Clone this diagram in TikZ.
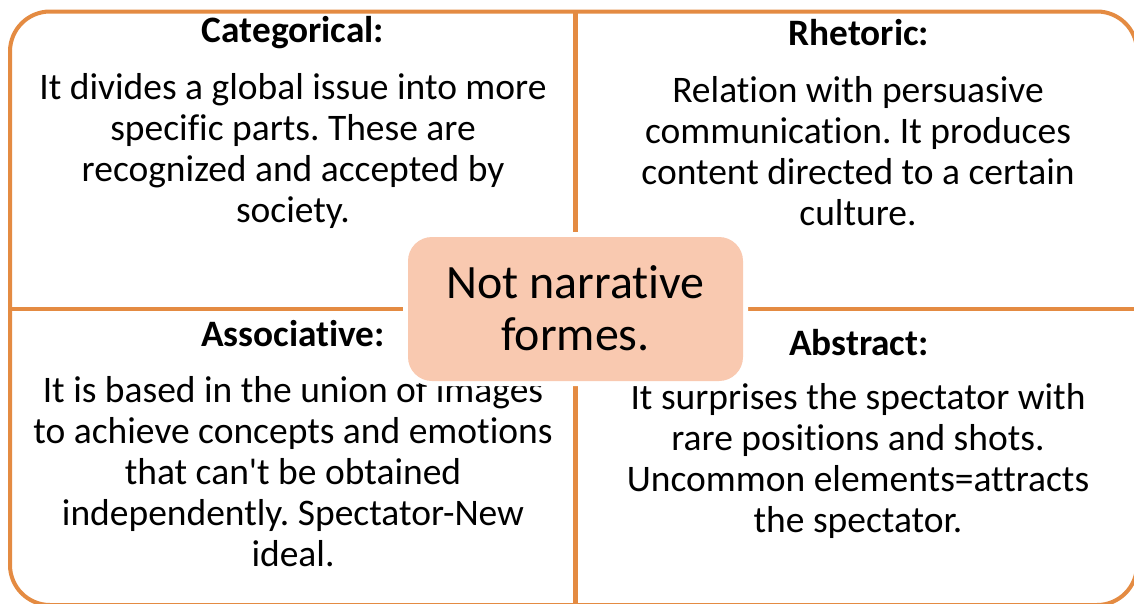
\documentclass[tikz,border=0pt]{standalone}
\usepackage{fontspec}
\setmainfont{Carlito}[Ligatures={NoCommon}]
\frenchspacing
\definecolor{orangeline}{RGB}{228,139,66}
\definecolor{peach}{RGB}{249,201,176}
\tikzset{
  frame/.style={draw=orangeline, line width=4pt},
  divider/.style={draw=orangeline, line width=4.5pt},
  heading/.style={font=\fontsize{37.3}{41}\selectfont\bfseries, align=center, inner sep=0pt},
  body/.style={font=\fontsize{37.5}{41}\selectfont, align=center, inner sep=0pt},
  centertext/.style={font=\fontsize{47.9}{52}\selectfont, align=center, inner sep=0pt},
}
\begin{document}
\begin{tikzpicture}[x=1pt,y=-1pt]
\clip (0,0) rectangle (1134,603);
\fill[white] (0,0) rectangle (1134,603);
% outer frame
\coordinate (tl) at (10,11.5);
\coordinate (br) at (1137,605);
\draw[frame, rounded corners=40pt] (tl) rectangle (br);
% dividers
\coordinate (vt) at (575.5,11.5);
\coordinate (vb) at (575.5,605);
\coordinate (hl) at (10,309);
\coordinate (hr) at (1137,309);
\draw[divider] (vt) -- (vb);
\draw[divider] (hl) -- (hr);
% headings
\node[heading] (h1) at (293,33) {Categorical:};
\node[heading] (h2) at (859,33) {Rhetoric:};
\node[heading] (h3) at (293,334) {Associative:};
\node[heading] (h4) at (859,343) {Abstract:};
% bodies
\node[body] (b1) at (293,151) {It divides a global issue into more\\specific parts. These are\\recognized and accepted by\\society.};
\node[body] (b2) at (858,151) {Relation with persuasive\\communication. It produces\\content directed to a certain\\culture.};
\node[body] (b3) at (293,472) {It is based in the union of images\\to achieve concepts and emotions\\that can\textquotesingle t be obtained\\independently. Spectator-New\\ideal.};
\node[body] (b4) at (858,461) {It surprises the spectator with\\rare positions and shots.\\Uncommon elements=attracts\\the spectator.};
% center box with white halo
\fill[white, rounded corners=29pt] (403,232) rectangle (748,386);
\fill[peach, rounded corners=24pt] (408,237) rectangle (743,381);
\node[centertext] (c) at (575.5,308) {Not narrative\\formes.};
\end{tikzpicture}
\end{document}
